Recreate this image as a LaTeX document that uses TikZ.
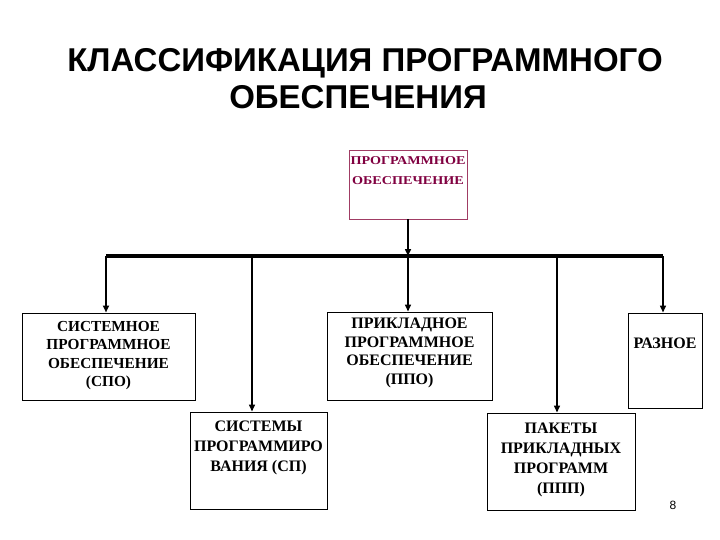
\documentclass[tikz,border=0pt]{standalone}
\usepackage{fontspec}
\setmainfont{Liberation Serif}
\newfontfamily\titlefont{Liberation Sans}
\usetikzlibrary{arrows.meta}
\definecolor{topred}{RGB}{128,0,64}
\definecolor{topline}{RGB}{160,60,100}
\begin{document}
\begin{tikzpicture}[x=1pt,y=-1pt,
  box/.style={draw=black, line width=1pt, rectangle, inner sep=0pt},
  lbl/.style={align=center, font=\bfseries\fontsize{15.3}{18.5}\selectfont, inner sep=0pt},
  lblb/.style={align=center, font=\bfseries\fontsize{16}{20}\selectfont, inner sep=0pt},
  arr/.style={line width=1.5pt, -{Triangle[length=7pt,width=6pt]}},
  bus/.style={line width=4pt}]
\useasboundingbox (0,0) rectangle (720,540);

% title
\node[font=\titlefont\bfseries\fontsize{33}{37}\selectfont, anchor=base, inner sep=0pt] (t1) at (365,72) {КЛАССИФИКАЦИЯ ПРОГРАММНОГО};
\node[font=\titlefont\bfseries\fontsize{33}{37}\selectfont, anchor=base, inner sep=0pt] (t2) at (358,109) {ОБЕСПЕЧЕНИЯ};

% top box
\node[box, draw=topline, line width=0.8pt, minimum width=118pt, minimum height=69pt] (top) at (408,184.5) {};
\node[align=center, inner sep=0pt, text=topred, font=\bfseries\fontsize{12}{20}\selectfont] (topt) at (408,171)
  {\scalebox{1.18}[1]{ПРОГРАММНОЕ}\\\scalebox{1.18}[1]{ОБЕСПЕЧЕНИЕ}};

% boxes
\node[box, minimum width=173pt, minimum height=87pt] (spo) at (108.5,356.5) {};
\node[lbl] (spot) at (108.5,355.5) {СИСТЕМНОЕ\\ПРОГРАММНОЕ\\ОБЕСПЕЧЕНИЕ\\(СПО)};

\node[box, minimum width=165pt, minimum height=88pt] (ppo) at (409.5,356) {};
\node[lbl, font=\bfseries\fontsize{16}{18.7}\selectfont] (ppot) at (409.5,353) {ПРИКЛАДНОЕ\\ПРОГРАММНОЕ\\ОБЕСПЕЧЕНИЕ\\(ППО)};

\node[box, minimum width=74pt, minimum height=95pt] (raz) at (665,360.5) {};
\node[lblb] (razt) at (665,343) {РАЗНОЕ};

\node[box, minimum width=137pt, minimum height=97pt] (sp) at (258.5,460.5) {};
\node[lblb] (spt) at (258.5,448) {СИСТЕМЫ\\ПРОГРАММИРО\\ВАНИЯ (СП)};

\node[box, minimum width=148pt, minimum height=97pt] (ppp) at (561,461.5) {};
\node[lblb] (pppt) at (561,460) {ПАКЕТЫ\\ПРИКЛАДНЫХ\\ПРОГРАММ\\(ППП)};

% page number
\node[font=\titlefont\fontsize{12}{14}\selectfont, inner sep=0pt] (pg) at (673,505) {8};

% bus
\coordinate (b1) at (106,256);
\coordinate (b2) at (252,256);
\coordinate (b3) at (408,256);
\coordinate (b4) at (557,256);
\coordinate (b5) at (663,256);
\draw[bus] (b1) -- (b5);

% arrows
\draw[arr] (top.south) -- (b3);
\draw[arr, line width=2pt] (b1) -- (b1 |- spo.north);
\draw[arr] (b2) -- (b2 |- sp.north);
\draw[arr] (b3) -- (b3 |- ppo.north);
\draw[arr] (b4) -- (b4 |- ppp.north);
\draw[arr] (b5) -- (b5 |- raz.north);
\end{tikzpicture}
\end{document}
